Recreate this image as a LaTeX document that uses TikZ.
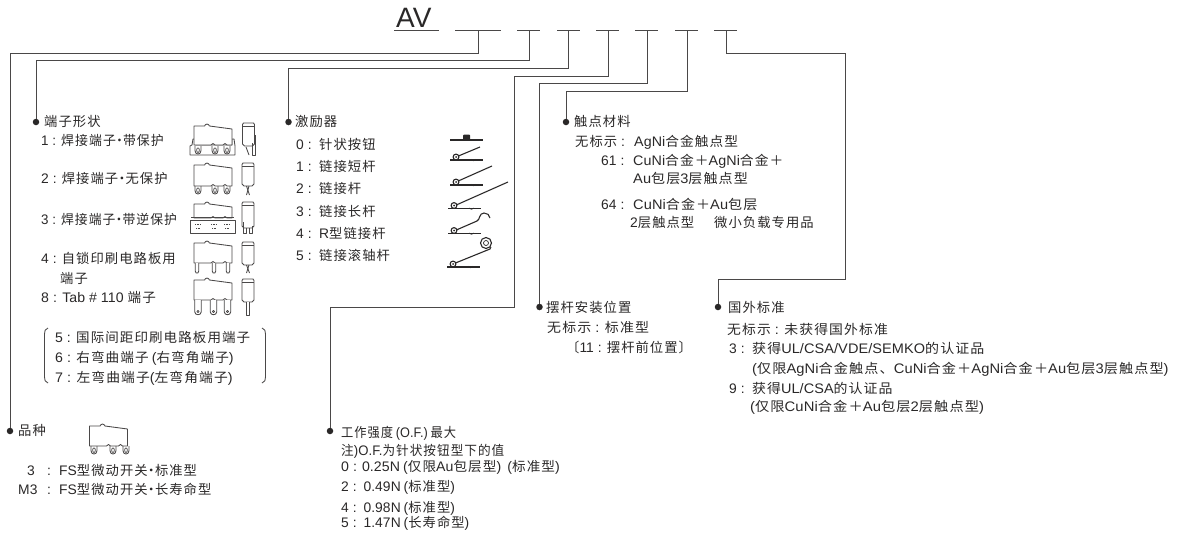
\documentclass[tikz,border=0pt]{standalone}
\usepackage{fontspec}
\setmainfont{Liberation Sans}
\newfontfamily\latf[Scale=1.04,LetterSpace=0.5]{Liberation Sans}
\newfontfamily\cjkf[LetterSpace=8]{Noto Sans CJK SC}
\XeTeXinterchartokenstate=1
\newXeTeXintercharclass\cjkcl
\newcount\cc
\cc="4E00 \loop\XeTeXcharclass\cc=\cjkcl \advance\cc by 1 \ifnum\cc<"A000 \repeat
\cc="3000 \loop\XeTeXcharclass\cc=\cjkcl \advance\cc by 1 \ifnum\cc<"3100 \repeat
\cc="FF00 \loop\XeTeXcharclass\cc=\cjkcl \advance\cc by 1 \ifnum\cc<"FF20 \repeat
\XeTeXinterchartoks 0 \cjkcl={\cjkf}
\XeTeXinterchartoks \cjkcl 0={\latf}
\XeTeXinterchartoks 4095 \cjkcl={\cjkf}
\XeTeXinterchartoks \cjkcl 4095={\latf}
\definecolor{ink}{HTML}{2A2828}
\newcommand\dt{\kern-3pt ・\kern-3pt }
\newcommand\lp{\kern3pt(}
\newcommand\rp{)\kern3pt }
\newcommand\sx[2]{\scalebox{#1}[1]{#2}}
\tikzset{
  txt/.style={anchor=base west,inner sep=0pt,text=ink,font=\fontsize{13.3}{15}\latf},
  conn/.style={draw=ink!85,line width=1pt},
  tickline/.style={draw=ink!85,line width=0.9pt},
  dotn/.style={circle,fill=ink,draw=none,minimum size=6.5pt,inner sep=0pt},
  sw/.style={draw=ink!85,line width=0.85pt,line join=round},
  act/.style={draw=ink,line width=1.1pt},
  pics/bodyp/.style={code={
    \draw[sw,fill=white] (0,0) -- (10.5,0) .. controls (11.5,-2.6) and (14.5,-2.6) .. (15.5,0) -- (38,3) -- (38,#1) -- (33,#1) -- (31,#1-1.5) -- (29,#1) -- (21,#1) -- (19,#1-1.5) -- (17,#1) -- (0,#1) -- cycle;
  }},
  pics/oval/.style={code={
    \draw[sw] (-3,0) -- (-3,4.6) .. controls (-3,9.2) and (3,9.2) .. (3,4.6) -- (3,0);
    \draw[sw,line width=0.7pt] (0,4.2) ellipse (1.4 and 2.3);
  }},
  pics/pinp/.style={code={
    \draw[sw,fill=white] (-1.8,0) -- (-1.8,8) -- (-0.8,10) -- (0.8,10) -- (1.8,8) -- (1.8,0);
  }},
  pics/tabp/.style={code={
    \draw[sw,fill=white] (-3.2,0) -- (-3.2,12) .. controls (-3.2,15.6) and (3.2,15.6) .. (3.2,12) -- (3.2,0);
    \draw[sw,line width=0.6pt] (0,11.5) circle (1.1);
  }},
  pics/sidep/.style={code={
    \draw[sw,fill=white] (1,0) -- (11,0) -- (12,1.5) -- (12,#1+1) -- (10,#1+3) -- (2,#1+3) -- (0,#1+1) -- (0,1.5) -- cycle;
    \draw[sw] (0,3) -- (12,3);
  }},
  pics/levr/.style={code={
    \draw[act] (-6,3) -- (27,3);
    \draw[act,fill=white] (0,0) circle (2.9);
    \fill[ink] (0,0) circle (1);
    \fill[ink] (15.3,3) -- (15.3,1.9) arc[start angle=180,end angle=0,radius=2.2] -- (19.7,3) -- cycle;
  }}
}
\begin{document}
\begin{tikzpicture}[x=1pt,y=-1pt]
\useasboundingbox (0,0) rectangle (1180,536);
% model number
\node[anchor=base west,inner sep=0pt,text=ink,font=\fontsize{28}{30}\selectfont] (av) at (396,27) {AV};
\draw[tickline] (394,30) -- (439,30);
\draw[tickline] (455,30) -- (501,30);
\draw[tickline] (517,30) -- (540,30);
\draw[tickline] (557,30) -- (580,30);
\draw[tickline] (596,30) -- (619,30);
\draw[tickline] (635,30) -- (658,30);
\draw[tickline] (675,30) -- (698,30);
\draw[tickline] (714,30) -- (737,30);
\coordinate (t1) at (478,30);
\coordinate (t2) at (529,30);
\coordinate (t3) at (568,30);
\coordinate (t4) at (608,30);
\coordinate (t5) at (647,30);
\coordinate (t6) at (687,30);
\coordinate (t7) at (726,30);
\coordinate (k4a) at (514,76);
\coordinate (k4b) at (514,307);
\coordinate (k7a) at (845,53);
\coordinate (k7b) at (845,279);
% dots
\node[dotn] (d1) at (10,431) {};
\node[dotn] (d2) at (36,122) {};
\node[dotn] (d3) at (288.5,122) {};
\node[dotn] (d4) at (330,431) {};
\node[dotn] (d5) at (539.5,307) {};
\node[dotn] (d6) at (566,122) {};
\node[dotn] (d7) at (718,307) {};
% connectors
\draw[conn] (t1) -- ++(0,23) -| (d1);
\draw[conn] (t2) -- ++(0,30.7) -| (d2);
\draw[conn] (t3) -- ++(0,38) -| (d3);
\draw[conn] (t4) |- (k4a) -- (k4b) -| (d4);
\draw[conn] (t5) -- ++(0,53) -| (d5);
\draw[conn] (t6) -- ++(0,61) -| (d6);
\draw[conn] (t7) |- (k7a) -- (k7b) -| (d7);
% terminal shapes text
\node[txt] (a0) at (44,126.5) {端子形状};
\node[txt] (a1) at (41,145.5) {\sx{0.97}{1 : 焊接端子\dt 带保护}};
\node[txt] (a2) at (41,183.5) {2 : 焊接端子\dt 无保护};
\node[txt] (a3) at (41,224.5) {\sx{0.965}{3 : 焊接端子\dt 带逆保护}};
\node[txt] (a4) at (41,263.5) {4 : 自锁印刷电路板用};
\node[txt] (a4b) at (60,283.5) {端子};
\node[txt] (a8) at (41,302.5) {\sx{1.02}{8 : Tab \# 110 端子}};
\node[txt] (a5) at (55,342.5) {\sx{1.016}{5 : 国际间距印刷电路板用端子}};
\node[txt] (a6) at (55,362.5) {\sx{1.023}{6 : 右弯曲端子\lp 右弯角端子\rp}};
\node[txt] (a7) at (55,382.5) {\sx{1.035}{7 : 左弯曲端子(左弯角端子\rp}};
\draw[sw] (48,328) .. controls (45,329) and (44.5,331) .. (44.5,334) -- (44.5,377) .. controls (44.5,380) and (45,382) .. (48,383);
\draw[sw] (262,328) .. controls (265,329) and (265.5,331) .. (265.5,334) -- (265.5,377) .. controls (265.5,380) and (265,382) .. (262,383);
% series text
\node[txt] (b0) at (18,435.5) {品种};
\node[txt] (b1) at (27,475.5) {3};
\node[txt] (b1c) at (47,475.5) {:};
\node[txt] (b1t) at (59,475.5) {FS型微动开关\dt 标准型};
\node[txt] (b2) at (18,494.5) {M3};
\node[txt] (b2c) at (47,494.5) {:};
\node[txt] (b2t) at (59,494.5) {FS型微动开关\dt 长寿命型};
% actuator text
\node[txt] (c0) at (295,126.5) {激励器};
\node[txt] (c1) at (296,149.5) {0 :};
\node[txt] (c1t) at (319,149.5) {针状按钮};
\node[txt] (c2) at (296,171.5) {1 :};
\node[txt] (c2t) at (319,171.5) {链接短杆};
\node[txt] (c3) at (296,193.5) {2 :};
\node[txt] (c3t) at (319,193.5) {链接杆};
\node[txt] (c4) at (296,216.5) {3 :};
\node[txt] (c4t) at (319,216.5) {链接长杆};
\node[txt] (c5) at (296,238.5) {4 :};
\node[txt] (c5t) at (319,238.5) {R型链接杆};
\node[txt] (c6) at (296,260.5) {5 :};
\node[txt] (c6t) at (319,260.5) {链接滚轴杆};
% contact text
\node[txt] (e0) at (574,126.5) {触点材料};
\node[txt] (e1) at (575,146.5) {无标示 :};
\node[txt] (e1t) at (634,146.5) {\sx{1.03}{AgNi合金触点型}};
\node[txt] (e2) at (601,165.5) {61 :};
\node[txt] (e2t) at (633,165.5) {\sx{1.035}{CuNi合金＋AgNi合金＋}};
\node[txt] (e2b) at (633,183.5) {\sx{1.055}{Au包层3层触点型}};
\node[txt] (e3) at (601,209.5) {64 :};
\node[txt] (e3t) at (633,209.5) {\sx{1.055}{CuNi合金＋Au包层}};
\node[txt] (e3b) at (630,227.5) {2层触点型};
\node[txt] (e3c) at (714,227.5) {微小负载专用品};
% lever text
\node[txt] (f0) at (546,312.5) {摆杆安装位置};
\node[txt] (f1) at (547,332.5) {\sx{1.05}{无标示 : 标准型}};
\node[txt] (f2) at (566,352.5) {〔11 : 摆杆前位置〕};
% standards text
\node[txt] (g0) at (728,312.5) {国外标准};
\node[txt] (g1) at (727,334.5) {\sx{1.04}{无标示 : 未获得国外标准}};
\node[txt] (g2) at (729,353.5) {3 :};
\node[txt] (g2t) at (752,353.5) {\sx{1.05}{获得UL/CSA/VDE/SEMKO的认证品}};
\node[txt] (g3) at (752,373.5) {\sx{1.063}{(仅限AgNi合金触点、CuNi合金＋AgNi合金＋Au包层3层触点型)}};
\node[txt] (g4) at (729,393.5) {9 :};
\node[txt] (g4t) at (752,393.5) {\sx{1.045}{获得UL/CSA的认证品}};
\node[txt] (g5) at (750,411.5) {\sx{1.07}{(仅限CuNi合金＋Au包层2层触点型)}};
% force text
\node[txt] (h0) at (341,437.5) {\sx{0.92}{工作强度\lp O.F.\rp 最大}};
\node[txt] (h1) at (341,455.5) {\sx{0.95}{注)O.F.为针状按钮型下的值}};
\node[txt] (h2) at (341,471.5) {\sx{1.023}{0 :\kern1pt\ 0.25N\lp 仅限Au包层型\rp\lp 标准型\rp}};
\node[txt] (h3) at (341,491.5) {2 :\kern3pt\ 0.49N\lp 标准型\rp};
\node[txt] (h4) at (341,512) {4 :\kern3pt\ 0.98N\lp 标准型\rp};
\node[txt] (h5) at (341,527.5) {5 :\kern3pt\ 1.47N\lp 长寿命型\rp};
% switch 1
\draw[sw,fill=white] (190,155) -- (190,146) -- (192,145) -- (193,139) -- (195,139) -- (195,145) -- (232,145) -- (232,139) -- (234,139) -- (235,146) -- (235,155) -- cycle;
\pic at (194,126) {bodyp=19};
\pic at (198,146) {oval};
\pic at (215,146) {oval};
\pic at (227,146) {oval};
\pic at (242.5,123) {sidep=20};
\draw[sw] (252,143) -- (252,155) -- (255,155) -- (255,135);
\draw[sw] (246,147) -- (249,155);
% switch 2
\pic at (194,165) {bodyp=21};
\pic at (198,186) {oval};
\pic at (215,186) {oval};
\pic at (227,186) {oval};
\pic at (242,163) {sidep=20};
\draw[sw] (246.5,186) -- (249.5,195);
\draw[sw] (249,186) -- (246.5,195);
% switch 3
\pic at (194,204) {bodyp=14};
\draw[sw] (191,217) -- (234,217);
\draw[sw,fill=white] (190,233) -- (190,220) -- (235,220) -- (235,233) -- cycle;
\foreach \xx in {198,214,227} {
  \draw[sw,line width=0.5pt,densely dotted] (\xx-3,224) -- (\xx+3,224);
  \draw[sw,line width=0.5pt,densely dotted] (\xx-2,228) -- (\xx+2,228);
}
\pic at (242,202) {sidep=23};
\draw[sw] (243,222) -- (243,233) -- (246,233) -- (246,228);
\draw[sw] (249,228) -- (249,233) -- (252,233) -- (252,226);
% switch 4
\pic at (194,243) {bodyp=20};
\pic at (197,263) {pinp};
\pic at (214,263) {pinp};
\pic at (228,263) {pinp};
\pic at (242,242) {sidep=20};
\draw[sw] (246.5,265) -- (249.5,273);
\draw[sw] (249,265) -- (246.5,273);
% switch 8
\pic at (194,280) {bodyp=20};
\pic at (198,300) {tabp};
\pic at (213.5,300) {tabp};
\pic at (227.5,300) {tabp};
\pic at (242,279) {sidep=20};
\draw[sw,fill=white] (246.5,302) -- (246.5,315) -- (249.5,315) -- (249.5,302);
% series switch
\pic at (89.5,426) {bodyp=20};
\pic at (94,446) {oval};
\pic at (113,446) {oval};
\pic at (126,446) {oval};
% actuators
\draw[act] (450,140) -- (483,140);
\fill[ink] (463,140) -- (463,135.5) -- (464,134.5) -- (469,134.5) -- (470,135.5) -- (470,140) -- cycle;
\draw[act] (456,157) -- (480,147);
\pic at (456,157) {levr};
\draw[act] (456,182) -- (492,166);
\pic at (456,182) {levr};
\draw[act] (454,206) -- (508,182);
\pic at (454,205.5) {levr};
\draw[act] (454,231) -- (477,221) .. controls (480,220) and (479,213) .. (484,213) .. controls (487,213) and (490,215) .. (490,218);
\pic at (454,230.5) {levr};
\draw[act] (453,264) -- (490,249) -- (491,247);
\pic at (453,264) {levr};
\draw[act] (486,243) circle (5.5);
\draw[act,line width=0.7pt] (486,243) circle (2.5);
\end{tikzpicture}
\end{document}
